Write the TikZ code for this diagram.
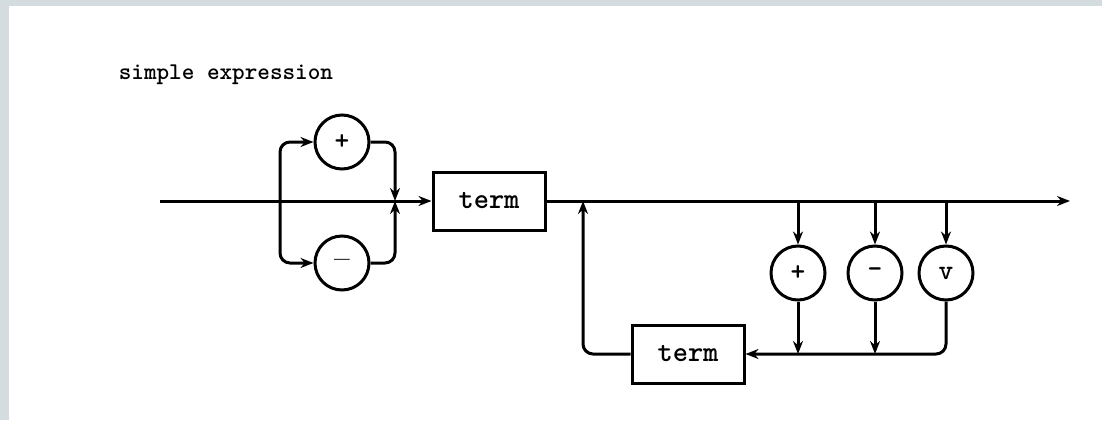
\documentclass[tikz,border=0pt]{standalone}
\usepackage{xcolor}
\usepackage{tikz}
\usetikzlibrary{arrows.meta, positioning}

\definecolor{scanbg}{HTML}{D5DCE0}

\tikzset{
    rule/.style={draw, rectangle, minimum width=112pt, minimum height=58pt,
        font=\ttfamily\bfseries\fontsize{29}{32}\selectfont},
    op/.style={draw, circle, minimum size=54pt, inner sep=0pt,
        font=\ttfamily\bfseries\fontsize{28}{30}\selectfont},
}

\begin{document}
\begin{tikzpicture}[x=1pt, y=-1pt, >={Stealth[length=13pt, width=10pt]}, line width=3pt]
    % page edge
    \fill[scanbg] (0,0) rectangle (1102,420);
    \fill[white] (9,6) rectangle (1102,420);
    \useasboundingbox (0,0) rectangle (1102,420);

    \node (title) [anchor=west, font=\ttfamily\bfseries\fontsize{24}{28}\selectfont] at (114,75) {simple expression};

    \node (term1) [rule] at (489,201) {term};
    \node (term2) [rule] at (688,354) {term};

    \node (plus) [op] at (342,142) {+};
    \node (minus) [op] at (342,263) {\rmfamily --};

    \node (add) [op] at (798,273) {+};
    \node (sub) [op, right=20pt of add] {-};
    \node (or) [op, right=14pt of sub] {v};

    \coordinate (start) at (160,201);
    \coordinate (split) at (280,201);
    \coordinate (join) at (395,201);
    \coordinate (loop) at (583,201);
    \coordinate (end) at (1070,201);
    \coordinate (t1) at (add |- end);
    \coordinate (t2) at (sub |- end);
    \coordinate (t3) at (or |- end);
    \coordinate (b1) at (add |- term2);
    \coordinate (b2) at (sub |- term2);

    % sign
    \draw[->] (start) -- (term1.west);
    \draw[->, rounded corners=10pt] (split) |- (plus.west);
    \draw[->, rounded corners=10pt] (split) |- (minus.west);
    \draw[->, rounded corners=10pt] (plus.east) -| (join);
    \draw[->, rounded corners=10pt] (minus.east) -| (join);

    % adding operators
    \draw[->] (term1.east) -- (end);
    \draw[->] (t1) -- (add.north);
    \draw[->] (t2) -- (sub.north);
    \draw[->] (t3) -- (or.north);
    \draw[->] (add.south) -- (b1);
    \draw[->] (sub.south) -- (b2);
    \draw[->, rounded corners=10pt] (or.south) |- (term2.east);
    \draw[->, rounded corners=10pt] (term2.west) -| (loop);
\end{tikzpicture}
\end{document}
